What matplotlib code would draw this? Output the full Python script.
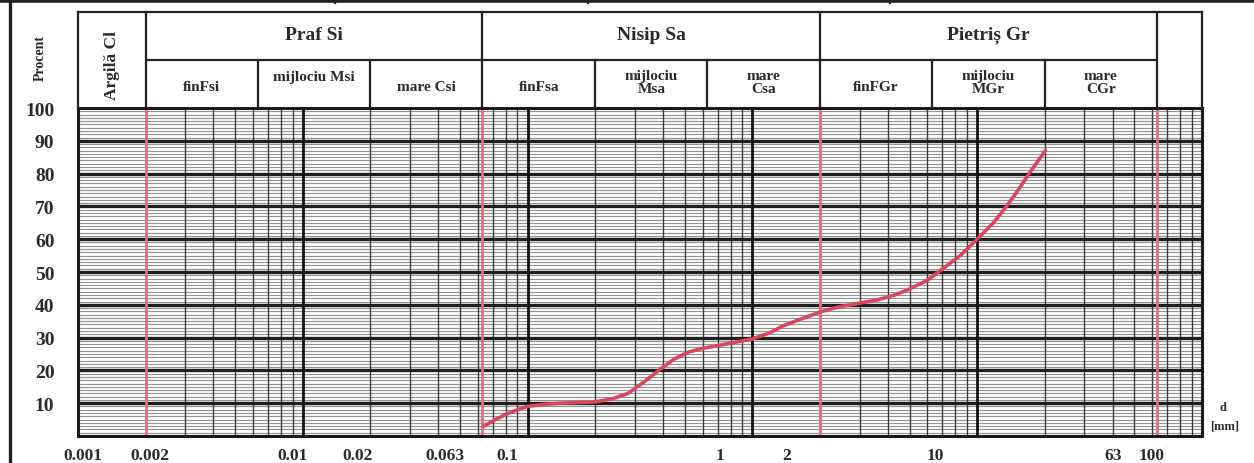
import numpy as np
import matplotlib
matplotlib.use("Agg")
import matplotlib.pyplot as plt
from matplotlib.lines import Line2D

# ---------------- data ----------------
diam_mm = [0.064, 0.072, 0.08, 0.09, 0.1, 0.12, 0.14, 0.17, 0.2, 0.24, 0.28,
           0.33, 0.39, 0.45, 0.52, 0.6, 0.68, 0.8, 1.0, 1.2, 1.36, 1.65,
           2.0, 2.4, 3.0, 3.6, 4.3, 5.0, 6.0, 7.0, 8.4, 10.0, 11.8, 13.5,
           15.4, 17.2, 20.1]
passing_pct = [3.0, 5.0, 6.6, 8.0, 9.0, 9.7, 10.0, 10.2, 10.4, 11.4, 13.0,
               16.5, 20.4, 23.5, 25.6, 26.7, 27.4, 28.3, 29.6, 31.5, 33.5,
               35.7, 37.8, 39.3, 40.5, 41.5, 43.0, 44.8, 47.5, 50.9, 55.0,
               60.0, 65.0, 70.0, 75.5, 80.5, 87.0]

main_bounds = [0.002, 0.063, 2.0, 63.0]             # Cl | Si | Sa | Gr
sub_bounds = [0.0063, 0.02, 0.2, 0.63, 6.3, 20.0]
groups = ["Praf Si", "Nisip Sa", "Pietriș Gr"]
subgroups = ["finFsi", "mijlociu Msi", "mare Csi",
             "finFsa", "mijlociu\nMsa", "mare\nCsa",
             "finFGr", "mijlociu\nMGr", "mare\nCGr"]
x_tick_labels = ["0.001", "0.002", "0.01", "0.02", "0.063", "0.1",
                 "1", "2", "10", "63", "100"]
y_ticks = [10, 20, 30, 40, 50, 60, 70, 80, 90, 100]

# ---------------- figure ----------------
W, H = 1254, 464
fig = plt.figure(figsize=(W / 100, H / 100), dpi=100)
fig.patch.set_facecolor("white")
serif = ["Liberation Serif", "DejaVu Serif"]

def fx(px):
    return px / W

def fy(py):
    return 1 - py / H

XMIN, XMAX = 0.001, 100.0
left, right, top, bottom = 78, 1202, 109, 437
ax = fig.add_axes([fx(left), fy(bottom), fx(right - left), (bottom - top) / H])
ax.set_xscale("log")
ax.set_xlim(XMIN, XMAX)
ax.set_ylim(0, 100)

RED_LINE = "#e0707f"
RED_CURVE = "#d8475f"

# horizontal grid
for v in range(1, 100):
    if v % 10:
        ax.axhline(v, color="#949494", lw=0.85, zorder=1)
for v in range(10, 100, 10):
    ax.axhline(v, color="#1e1e1e", lw=2.4, zorder=3)

# vertical grid
for k in range(-3, 2):
    dec = 10.0 ** k
    for m in range(2, 10):
        ax.axvline(m * dec, color="#3c3c3c", lw=1.0, zorder=2)
for k in range(-2, 2):
    ax.axvline(10.0 ** k, color="#111111", lw=2.0, zorder=4)
for b in main_bounds:
    ax.axvline(b, color=RED_LINE, lw=2.0, zorder=5)

# curve
ax.plot(diam_mm, passing_pct, color=RED_CURVE, lw=2.6, zorder=6,
        solid_capstyle="round", solid_joinstyle="round")

for s in ax.spines.values():
    s.set_linewidth(2.2)
    s.set_color("#1a1a1a")
    s.set_zorder(7)

ax.set_yticks(y_ticks)
ax.set_yticklabels([str(v) for v in y_ticks], fontfamily=serif,
                   fontweight="bold", fontsize=14, color="#2a2a2a")
ax.tick_params(axis="y", length=0, pad=17)
ax.tick_params(axis="x", which="both", length=0)
ax.set_xticks([])
ax.minorticks_off()

# x labels (placed where the printed form puts them)
label_px = [83, 150, 293, 358, 445, 507, 720, 787, 935, 1113, 1152]
for txt, px in zip(x_tick_labels, label_px):
    fig.text(fx(px), fy(456), txt, ha="center", va="center",
             fontfamily=serif, fontweight="bold", fontsize=12.5,
             color="#2a2a2a")

# ---------------- header table ----------------
htop = 13
hax = fig.add_axes([fx(left), fy(top), fx(right - left), (top - htop) / H])
hax.set_xscale("log")
hax.set_xlim(XMIN, XMAX)
hax.set_ylim(0, 1)
hax.axis("off")
lc = "#222222"
hlw = 1.6
hax.plot([XMIN, XMAX], [1, 1], color=lc, lw=hlw, clip_on=False)
hax.plot([XMIN, XMIN], [0, 1], color=lc, lw=hlw, clip_on=False)
hax.plot([XMAX, XMAX], [0, 1], color=lc, lw=hlw, clip_on=False)
hax.plot([main_bounds[0], main_bounds[-1]], [0.5, 0.5], color=lc, lw=hlw)
for b in main_bounds:
    hax.plot([b, b], [0, 1], color=lc, lw=hlw)
for b in sub_bounds:
    hax.plot([b, b], [0, 0.5], color=lc, lw=hlw)

tkw = dict(fontfamily=serif, fontweight="bold", color="#2a2a2a",
           ha="center", va="center")
for i, g in enumerate(groups):
    xc = np.sqrt(main_bounds[i] * main_bounds[i + 1])
    hax.text(xc, 0.77, g, fontsize=14, **tkw)
sub_edges = sorted(main_bounds + sub_bounds)
for i, sg in enumerate(subgroups):
    xc = np.sqrt(sub_edges[i] * sub_edges[i + 1])
    if "\n" in sg:
        hax.text(xc, 0.27, sg, fontsize=11, linespacing=1.0, **tkw)
    elif sg == "mijlociu Msi":
        hax.text(xc, 0.33, sg, fontsize=11, **tkw)
    else:
        hax.text(xc, 0.22, sg, fontsize=11, **tkw)
hax.text(np.sqrt(XMIN * main_bounds[0]), 0.45, "Argilă Cl", rotation=90,
         fontsize=12.5, **tkw)

# ---------------- outer frame / labels ----------------
fig.add_artist(Line2D([0, 1], [fy(2), fy(2)], transform=fig.transFigure,
                      color="#222", lw=2.6))
fig.add_artist(Line2D([fx(10), fx(10)], [0, fy(2)], transform=fig.transFigure,
                      color="#222", lw=2.4))
for px in (335, 588, 890):
    fig.add_artist(Line2D([fx(px), fx(px)], [fy(0), fy(4)],
                          transform=fig.transFigure, color="#222", lw=1.6))

fig.text(fx(40), fy(58), "Procent", rotation=90, fontsize=10, **tkw)
fig.text(fx(1223), fy(408), "d", fontsize=9, **tkw)
fig.text(fx(1225), fy(427), "[mm]", fontsize=9, **tkw)

fig.savefig("out.png", dpi=100)
